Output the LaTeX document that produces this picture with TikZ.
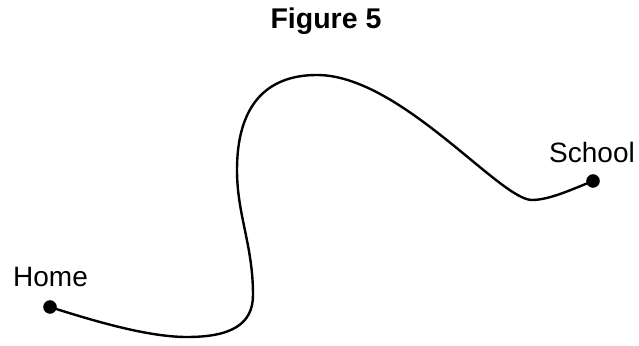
\documentclass[tikz,border=0pt]{standalone}
\usepackage{fontspec}
\setmainfont{Liberation Sans}
\usetikzlibrary{positioning}
\tikzset{pt/.style={ draw, fill = black,circle,inner sep=0pt,minimum size=13pt}}
\tikzset{lbl/.style={ anchor=base,inner sep=0pt,font=\fontsize{28}{34}\selectfont}}

\begin{document}
\begin{tikzpicture}[x=1pt,y=1pt]
\useasboundingbox (0,0) rectangle (639,345);
\node[lbl,font=\fontsize{28.5}{34}\selectfont\bfseries] (title) at (326,316) {Figure 5};
\node[pt] (home) at (50,38) {};
\node[pt] (school) at (593,164) {};
\node[lbl] (homelbl) at (50.5,58) {Home};
\node[lbl] (schoollbl) at (592,182) {School};
% bends of the road
\coordinate (low) at (187,8);
\coordinate (right) at (253,50);
\coordinate (left) at (237,175);
\coordinate (top) at (317,270);
\coordinate (dip) at (532,145);
\draw[line width=2.4pt] (home.center) .. controls (100,22) and (150,8) .. (low)
 .. controls (230,8) and (253,20) .. (right)
 .. controls (253,100) and (237,130) .. (left)
 .. controls (237,238) and (265,270) .. (top)
 .. controls (400,270) and (500,145) .. (dip)
 .. controls (550,145) and (575,157) .. (school.center);
\end{tikzpicture}
\end{document}
